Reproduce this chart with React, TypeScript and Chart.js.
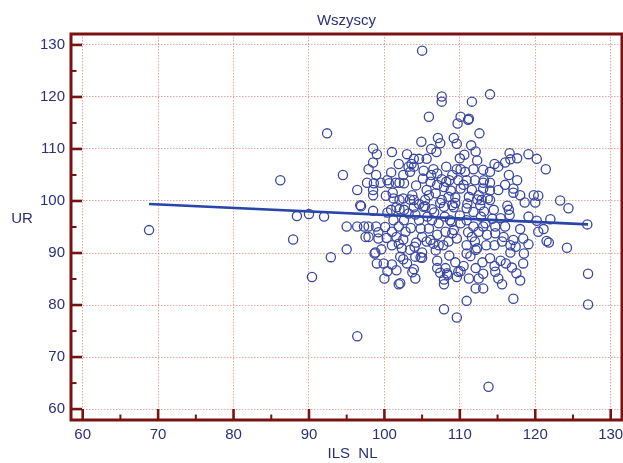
import { useEffect, useRef } from "react";
import { Chart, registerables } from "chart.js";

Chart.register(...registerables);

// Labels
const TITLE = "Wszyscy";
const X_TITLE = "ILS  NL";
const Y_TITLE = "UR";

// Axis ticks
const X_TICKS = [60, 70, 80, 90, 100, 110, 120, 130];
const Y_TICKS = [60, 70, 80, 90, 100, 110, 120, 130];
const X_MINOR = [65, 75, 85, 95, 105, 115, 125];
const Y_MINOR = [65, 75, 85, 95, 105, 115, 125];

// Observations (ILS NL vs UR), paired by index
const ILS_NL = [
  68.8, 86.2, 88.4, 87.9, 90.0, 90.4, 92.4, 94.5, 92.0, 95.0,
  92.9, 95.0, 96.4, 96.4, 96.4, 96.9, 97.7, 97.9, 98.5, 99.0,
  98.5, 98.9, 98.5, 98.5, 98.5, 97.3, 97.9, 98.9, 97.5, 97.9,
  99.2, 98.7, 99.6, 99.5, 100.4, 101.0, 101.5, 101.9, 102.0, 102.5,
  103.0, 103.2, 109.7, 111.1, 112.6, 107.1, 107.4, 109.2, 109.6, 106.2,
  112.1, 110.0, 103.6, 103.9, 104.6, 105.6, 103.4, 103.9, 106.5, 107.0,
  106.2, 107.6, 109.0, 109.6, 110.1, 110.7, 111.8, 113.1, 108.6, 109.8,
  110.9, 112.0, 113.2, 100.6, 102.6, 98.6, 106.1, 107.0, 108.2, 107.9,
  105.6, 105.9, 105.4, 110.1, 111.6, 112.5, 111.2, 113.1, 113.7, 108.5,
  109.4, 112.3, 112.9, 101.2, 102.0, 102.5, 103.7, 103.4, 103.9, 101.6,
  102.0, 105.2, 106.3, 107.4, 107.9, 109.0, 109.2, 100.4, 100.9, 102.6,
  103.9, 103.2, 96.8, 99.2, 101.2, 102.6, 101.9, 101.0, 102.8, 101.6,
  102.5, 104.6, 105.7, 106.3, 107.2, 105.9, 104.8, 107.0, 105.0, 106.1,
  108.1, 108.7, 109.2, 110.1, 110.9, 111.8, 112.5, 111.6, 109.6, 108.5,
  112.0, 113.4, 113.6, 107.6, 109.4, 110.9, 111.8, 116.6, 117.6, 116.7,
  116.0, 119.1, 120.2, 121.4, 114.6, 115.1, 114.0, 116.5, 117.6, 113.1,
  114.0, 116.0, 117.1, 115.1, 114.0, 118.0, 117.1, 119.8, 120.4, 120.0,
  123.3, 124.4, 118.6, 114.0, 112.7, 114.5, 116.5, 116.6, 115.4, 119.1,
  120.2, 122.0, 126.9, 121.1, 120.4, 118.0, 116.0, 114.7, 113.1, 114.7,
  115.8, 117.1, 118.4, 119.1, 121.5, 121.8, 124.2, 127.0, 127.0, 117.1,
  110.9, 107.9, 109.6, 118.0, 118.4, 118.5, 117.5, 115.1, 114.7, 114.6,
  114.0, 115.4, 116.1, 116.9, 116.7, 117.4, 112.1, 112.5, 112.1, 113.1,
  111.2, 110.5, 109.8, 109.6, 112.1, 111.4, 110.9, 107.0, 107.0, 107.4,
  108.1, 108.3, 107.9, 107.9, 104.1, 103.9, 103.0, 102.5, 102.1, 104.0,
  105.0, 104.8, 105.6, 106.5, 107.2, 107.8, 110.9, 112.3, 113.5, 114.6,
  115.6, 116.7, 98.8, 99.0, 99.9, 101.0, 100.4, 100.0, 101.9, 101.6,
  102.1, 104.1, 103.7, 105.0, 108.4, 110.1, 101.0, 101.9, 102.3, 105.0,
  107.6, 107.6, 111.6, 114.0, 105.9, 110.1, 111.2, 113.8,
  104.2, 105.1, 104.6, 106.8, 108.8, 110.5, 111.0, 104.1, 106.6, 108.0,
  110.0, 112.8, 104.2, 109.0, 111.1, 113.2, 105.2, 108.2, 112.3, 110.6,
  101.1, 100.2, 100.1, 100.3, 103.5, 106.8, 103.4, 108.6, 109.4, 113.0,
  113.1, 115.6, 106.9, 104.9, 111.5, 100.9, 105.4, 108.9, 114.3, 116.3,
];

const UR = [
  94.4, 104.0, 97.1, 92.6, 97.5, 85.4, 113.0, 105.0, 97.0, 95.1,
  89.2, 90.7, 74.0, 102.1, 95.1, 99.0, 103.5, 106.1, 110.1, 109.0,
  107.4, 105.0, 102.1, 101.1, 98.1, 95.1, 95.1, 95.1, 93.1, 93.1,
  94.0, 89.9, 90.7, 103.5, 104.0, 109.4, 103.5, 107.1, 103.5, 105.0,
  109.0, 106.6, 114.9, 115.6, 113.0, 112.1, 111.1, 112.1, 111.0, 110.0,
  109.5, 108.2, 107.1, 108.1, 108.1, 108.1, 105.6, 106.6, 106.1, 105.3,
  105.0, 104.2, 105.0, 106.1, 106.1, 105.6, 106.1, 106.0, 104.0, 104.0,
  104.0, 104.0, 104.0, 103.4, 103.4, 103.4, 103.7, 103.1, 103.7, 102.7,
  102.1, 101.1, 100.2, 102.4, 102.1, 101.1, 100.8, 102.4, 100.5, 100.8,
  100.7, 100.3, 100.2, 100.5, 100.2, 100.5, 101.1, 100.3, 100.2, 98.8,
  98.4, 98.9, 98.4, 99.6, 98.9, 99.2, 98.8, 97.8, 98.3, 98.3,
  98.8, 97.6, 99.2, 92.8, 96.3, 96.3, 95.1, 94.1, 94.1, 93.1,
  92.6, 96.3, 97.0, 96.3, 95.7, 94.7, 94.7, 93.5, 93.1, 92.5,
  94.1, 96.3, 94.4, 95.7, 96.3, 95.1, 94.1, 93.1, 92.8, 92.2,
  92.2, 95.7, 93.5, 100.2, 99.6, 98.6, 97.9, 109.2, 108.2, 108.0,
  107.4, 109.0, 108.1, 106.1, 107.1, 106.6, 105.6, 105.0, 104.0, 103.5,
  103.5, 103.1, 102.4, 102.1, 102.0, 101.1, 101.6, 101.1, 101.0, 99.7,
  100.1, 98.6, 99.7, 100.2, 99.2, 98.3, 98.3, 97.3, 96.7, 97.0,
  96.2, 96.5, 95.5, 94.6, 94.1, 94.6, 95.1, 95.1, 95.1, 93.8,
  93.1, 92.5, 92.8, 91.7, 92.3, 92.0, 91.0, 86.0, 80.1, 81.2,
  80.8, 79.2, 77.6, 84.7, 88.0, 89.9, 86.1, 85.1, 86.4, 87.5,
  89.0, 88.5, 88.0, 87.2, 90.1, 91.2, 87.1, 85.1, 83.2, 83.2,
  85.1, 87.5, 86.4, 85.4, 90.6, 89.4, 89.9, 88.5, 87.1, 86.2,
  87.1, 86.1, 84.9, 84.0, 85.1, 86.9, 88.0, 88.8, 84.2, 91.2,
  90.1, 89.2, 92.2, 91.8, 91.5, 91.5, 91.5, 90.9, 91.5, 91.5,
  92.2, 91.5, 90.1, 88.0, 88.0, 87.8, 86.5, 85.1, 84.0, 86.7,
  89.3, 89.3, 86.3, 89.1, 85.8, 86.5, 91.5, 91.8, 90.9, 128.9,
  120.1, 119.1, 119.1, 120.5, 116.2, 116.2, 115.8, 64.3,
  103.0, 104.3, 99.4, 101.5, 102.0, 103.1, 99.5, 97.4, 97.8, 97.0,
  97.2, 97.0, 92.0, 93.8, 94.0, 98.0, 105.8, 106.6, 107.8, 108.9,
  101.6, 101.0, 95.0, 92.9, 94.8, 90.5, 90.6, 89.5, 88.2, 88.2,
  86.0, 84.0, 109.4, 111.4, 110.7, 105.5, 99.0, 96.0, 96.6, 99.1,
];

// Least-squares line UR = a + b * ILS NL
const FIT_INTERCEPT = 104.03;
const FIT_SLOPE = -0.0672;

const TEXT_COLOR = "#2a3178";
const FRAME_COLOR = "#7a1212";
const FONT_FAMILY = "'Liberation Sans', Arial, Helvetica, sans-serif";

const framePlugin = {
  id: "frameAndLabels",
  afterDraw(chart: any) {
    const { ctx, chartArea, scales } = chart;
    const { left, right, top, bottom } = chartArea;
    const xs = scales.x;
    const ys = scales.y;
    ctx.save();
    ctx.strokeStyle = FRAME_COLOR;
    ctx.lineCap = "butt";

    // inward tick marks
    const tick = (x1: number, y1: number, x2: number, y2: number, w: number) => {
      ctx.lineWidth = w;
      ctx.beginPath();
      ctx.moveTo(x1, y1);
      ctx.lineTo(x2, y2);
      ctx.stroke();
    };
    X_TICKS.forEach((v) => {
      const px = xs.getPixelForValue(v);
      tick(px, bottom, px, bottom - 11, 2.6);
    });
    X_MINOR.forEach((v) => {
      const px = xs.getPixelForValue(v);
      tick(px, bottom, px, bottom - 5.5, 2);
    });
    Y_TICKS.forEach((v) => {
      const py = ys.getPixelForValue(v);
      tick(left, py, left + 11, py, 2.6);
    });
    Y_MINOR.forEach((v) => {
      const py = ys.getPixelForValue(v);
      tick(left, py, left + 5.5, py, 2);
    });

    // frame
    ctx.lineWidth = 3;
    ctx.strokeRect(left, top, right - left, bottom - top);

    // texts
    ctx.fillStyle = TEXT_COLOR;
    ctx.font = `15px ${FONT_FAMILY}`;
    ctx.textAlign = "center";
    ctx.textBaseline = "middle";
    ctx.fillText(TITLE, (left + right) / 2, 21);
    ctx.fillText(X_TITLE, (left + right) / 2 + 6, 454);
    ctx.fillText(Y_TITLE, 22, 219);
    ctx.restore();
  },
};

export default function App() {
  const canvasRef = useRef<HTMLCanvasElement | null>(null);

  useEffect(() => {
    const canvas = canvasRef.current;
    if (!canvas) return;

    const points = ILS_NL.map((x, i) => ({ x, y: UR[i] }));
    const xMin = Math.min(...ILS_NL);
    const xMax = Math.max(...ILS_NL);
    const fit = [
      { x: xMin, y: FIT_INTERCEPT + FIT_SLOPE * xMin },
      { x: xMax, y: FIT_INTERCEPT + FIT_SLOPE * xMax },
    ];

    const gridOpts = {
      color: "rgba(210, 110, 95, 0.6)",
      lineWidth: 1,
      drawTicks: false,
    };
    const tickFont = { family: FONT_FAMILY, size: 15 };

    const chart = new Chart(canvas, {
      type: "scatter",
      data: {
        datasets: [
          {
            type: "line",
            data: fit,
            borderColor: "#2a45aa",
            borderWidth: 2.6,
            pointRadius: 0,
            fill: false,
            order: 0,
          } as any,
          {
            data: points,
            pointStyle: "circle",
            pointRadius: 4.6,
            pointBorderWidth: 1.3,
            pointBorderColor: "#3847a0",
            pointBackgroundColor: "rgba(0,0,0,0)",
            borderColor: "#3847a0",
            backgroundColor: "rgba(0,0,0,0)",
            order: 1,
          },
        ],
      },
      options: {
        animation: false,
        responsive: false,
        devicePixelRatio: 1,
        layout: { autoPadding: false, padding: { top: 34, right: 1, left: 0, bottom: 0 } },
        plugins: {
          legend: { display: false },
          tooltip: { enabled: false },
          title: { display: false },
        },
        scales: {
          x: {
            type: "linear",
            min: 58.45,
            max: 131.5,
            afterBuildTicks: (s: any) => {
              s.ticks = X_TICKS.map((value) => ({ value }));
            },
            afterFit: (s: any) => {
              s.height = 43;
              s.paddingLeft = 0;
              s.paddingRight = 0;
            },
            grid: gridOpts,
            border: { display: false, dash: [1.5, 1.5] },
            ticks: {
              color: TEXT_COLOR,
              font: tickFont,
              padding: 6,
              maxRotation: 0,
              autoSkip: false,
              callback: (v: any) => String(v),
            },
          },
          y: {
            type: "linear",
            min: 57.9,
            max: 132.1,
            afterBuildTicks: (s: any) => {
              s.ticks = Y_TICKS.map((value) => ({ value }));
            },
            afterFit: (s: any) => {
              s.width = 71;
              s.paddingTop = 0;
              s.paddingBottom = 0;
            },
            grid: gridOpts,
            border: { display: false, dash: [1.5, 1.5] },
            ticks: {
              color: TEXT_COLOR,
              font: tickFont,
              padding: 6,
              autoSkip: false,
              callback: (v: any) => String(v),
            },
          },
        },
      },
      plugins: [framePlugin],
    } as any);

    return () => chart.destroy();
  }, []);

  return (
    <div style={{ position: "absolute", left: 0, top: 0, width: 623, height: 463, background: "#fff" }}>
      <canvas ref={canvasRef} width={623} height={463} />
    </div>
  );
}
